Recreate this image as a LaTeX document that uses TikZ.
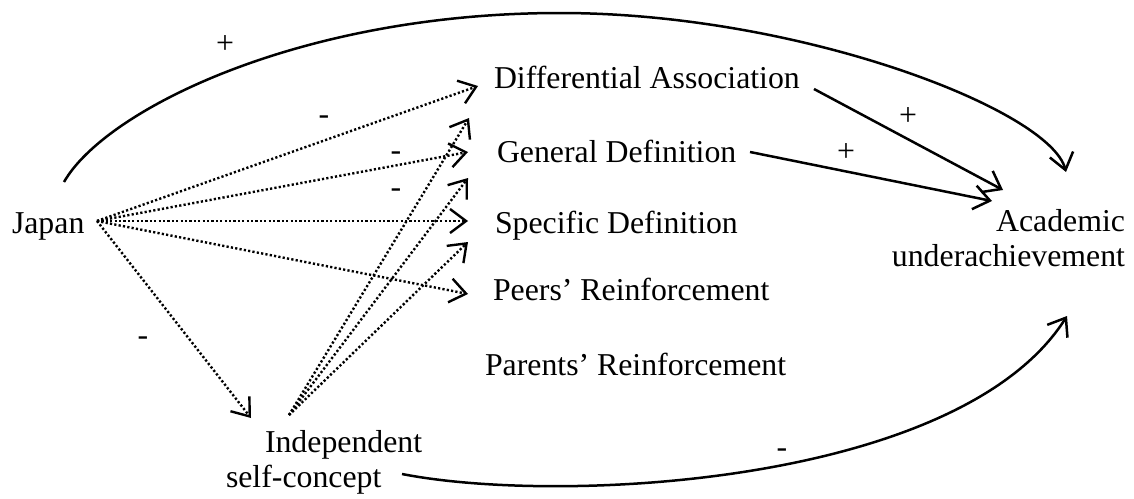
\documentclass[tikz,border=0pt]{standalone}
\usepackage{fontspec}
\setmainfont{Liberation Serif}
\usetikzlibrary{arrows.meta}
\begin{document}
\begin{tikzpicture}[x=0.5pt,y=-0.5pt,
  lbl/.style={font=\fontsize{15.9}{17.5}\selectfont, inner sep=0pt, outer sep=0pt},
  concept/.style={lbl, anchor=base west},
  sign/.style={lbl, anchor=center},
  link/.style={line width=1.25pt, -{Straight Barb[length=8pt,width=12pt]}},
  dotlink/.style={line width=1.2pt, dash pattern=on 1.1pt off 1.1pt,
    -{Straight Barb[length=8pt,width=12pt,line width=1.2pt]}}
]
\fill[white] (0,0) rectangle (1134,498);
\useasboundingbox (0,0) rectangle (1134,498);

% concepts (multi-line nodes sit on the baseline of their last line)
\node[concept] (japan)   at (12,233)  {Japan};
\node[concept] (diff)    at (494,88)  {Differential Association};
\node[concept] (gen)     at (497,162) {General Definition};
\node[concept] (spec)    at (495,233) {Specific Definition};
\node[concept] (peers)   at (493,300) {Peers’ Reinforcement};
\node[concept] (parents) at (485,375) {Parents’ Reinforcement};
\node[lbl, align=right, anchor=base east] (acad) at (1125,266) {Academic\\underachievement};
\node[lbl, align=left, anchor=base west] (self) at (226,487) {\hspace*{19.5pt}Independent\\self-concept};

% connector end points
\coordinate (jArc)   at (64,182);
\coordinate (jFan)   at (97,221);
\coordinate (sFan)   at (289,415);
\coordinate (sArc)   at (402,474);
\coordinate (tDiff)  at (478,86);
\coordinate (tGen)   at (468,152);
\coordinate (tSpec)  at (468,221);
\coordinate (tPeers) at (468,294);
\coordinate (tSelf)  at (251,418);
\coordinate (uDiff)  at (469,118);
\coordinate (uGen)   at (468,178);
\coordinate (uSpec)  at (468,242);
\coordinate (oDiff)  at (814,89);
\coordinate (oGen)   at (750,152);
\coordinate (aTop)   at (1066,172);
\coordinate (aDiff)  at (1003,190);
\coordinate (aGen)   at (992,201);
\coordinate (aBot)   at (1067,316);

% solid paths
\draw[link] (jArc) .. controls (105,110) and (300,13) .. (560,13)
                   .. controls (800,13) and (1050,110) .. (aTop);
\draw[link] (sArc) .. controls (560,505) and (960,485) .. (aBot);
\draw[link] (oDiff) -- (aDiff);
\draw[link] (oGen) -- (aGen);

% dotted paths
\foreach \t in {tDiff,tGen,tSpec,tPeers,tSelf}
  \draw[dotlink] (jFan) -- (\t);
\foreach \t in {uDiff,uGen,uSpec}
  \draw[dotlink] (sFan) -- (\t);

% signs
\node[sign] (pTop)  at (225,45)  {+};
\node[sign] (pDiff) at (908,117) {+};
\node[sign] (pGen)  at (846,153) {+};
\node[sign] (mDiff) at (324,120) {-};
\node[sign] (mGen)  at (396,156) {-};
\node[sign] (mSpec) at (396,193) {-};
\node[sign] (mSelf) at (143,341) {-};
\node[sign] (mBot)  at (782,453) {-};
\end{tikzpicture}
\end{document}
